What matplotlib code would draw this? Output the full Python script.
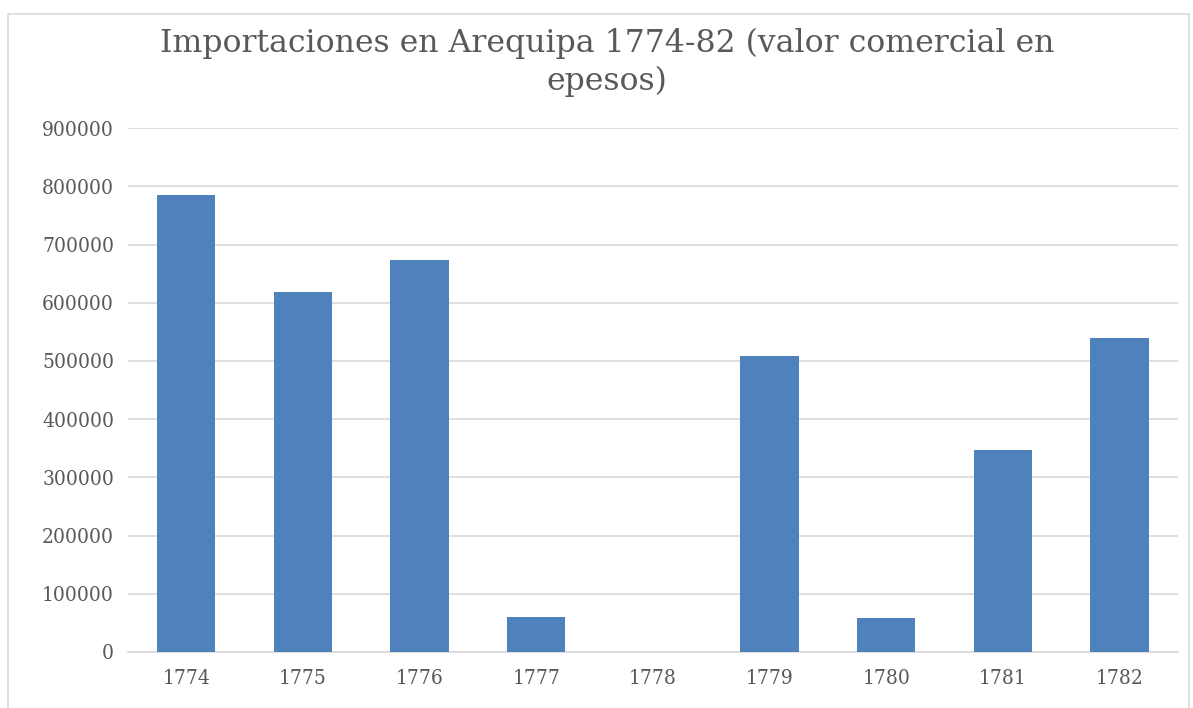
import matplotlib.pyplot as plt
from matplotlib.patches import Rectangle

years = ["1774", "1775", "1776", "1777", "1778", "1779", "1780", "1781", "1782"]
valores = [785000, 619000, 674000, 60000, 0, 509000, 58000, 347000, 540000]
yticks = [0, 100000, 200000, 300000, 400000, 500000, 600000, 700000, 800000, 900000]

plt.rcParams['font.family'] = ['DejaVu Serif']
gris = '#595959'

fig = plt.figure(figsize=(11.93, 7.08), dpi=100)
ax = fig.add_axes([0.1073, 0.0791, 0.880, 0.740])

x = range(len(years))
ax.bar(x, valores, width=0.5, color='#4F81BD', zorder=3)

ax.set_xlim(-0.5, len(years) - 0.5)
ax.set_ylim(0, 900000)
ax.set_yticks(yticks)
ax.set_yticklabels([str(v) for v in yticks])
ax.set_xticks(list(x))
ax.set_xticklabels(years)
ax.grid(axis='y', color='#D9D9D9', linewidth=1.2, zorder=0)
for s in ['top', 'right', 'left']:
    ax.spines[s].set_visible(False)
ax.spines['bottom'].set_color('#D9D9D9')
ax.spines['bottom'].set_linewidth(1.2)
ax.tick_params(length=0, labelsize=15, colors=gris)
ax.tick_params(axis='x', pad=12)
ax.tick_params(axis='y', pad=10)
for lab in ax.get_xticklabels() + ax.get_yticklabels():
    lab.set_fontstretch('condensed')

fig.text(0.509, 0.912, "Importaciones en Arequipa 1774-82 (valor comercial en\nepesos)",
         ha='center', va='center', fontsize=22.7, color=gris, linespacing=1.25)

# chart border
fig.patches.append(Rectangle((0.007, -0.01), 0.99, 0.99, transform=fig.transFigure,
                             fill=False, edgecolor='#D9D9D9', linewidth=1.2))

fig.savefig('out.png', dpi=100)
